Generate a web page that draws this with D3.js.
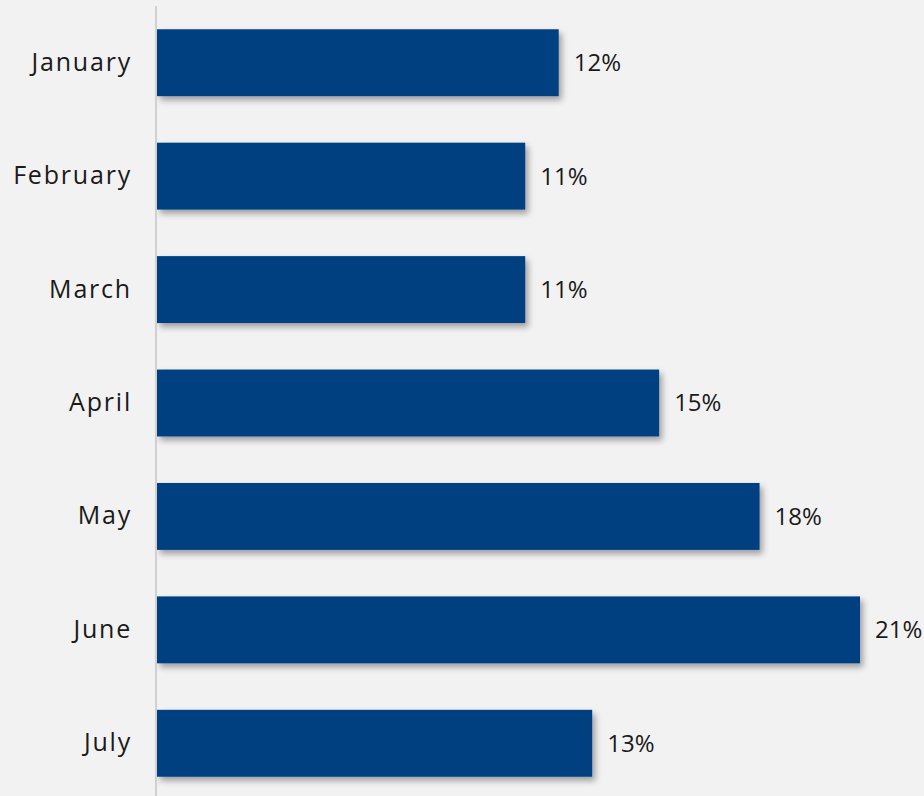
<!DOCTYPE html>
<html>
<head>
<meta charset="utf-8">
<script src="https://cdn.jsdelivr.net/npm/d3@7"></script>
<style>
  html, body { margin: 0; padding: 0; background: #f2f2f2; }
  svg { display: block; }
</style>
</head>
<body>
<svg id="chart" width="924" height="796"></svg>
<script>
// Monthly share, in percent
const months = ["January", "February", "March", "April", "May", "June", "July"];
const shares = [12, 11, 11, 15, 18, 21, 13];

const svg = d3.select("#chart");
const W = 924, H = 796;
const x0 = 157;

svg.append("rect").attr("width", W).attr("height", H).attr("fill", "#f2f2f2");

const defs = svg.append("defs");
const f = defs.append("filter").attr("id", "shadow")
  .attr("x", "-5%").attr("y", "-20%").attr("width", "115%").attr("height", "150%");
f.append("feDropShadow").attr("dx", 3).attr("dy", 4).attr("stdDeviation", 3)
  .attr("flood-color", "#000").attr("flood-opacity", 0.35);

const y = d3.scaleBand().domain(months).range([6, 800]).paddingInner(0.41).paddingOuter(0.205);
const x = d3.scaleLinear().domain([0, 21]).range([x0, 860]);

const data = months.map((m, i) => ({ month: m, value: shares[i] }));

svg.append("g").selectAll("rect").data(data).join("rect")
  .attr("x", x(0))
  .attr("y", d => y(d.month))
  .attr("width", d => x(d.value) - x(0))
  .attr("height", y.bandwidth())
  .attr("fill", "#024180")
  .attr("filter", "url(#shadow)");

// Category axis
const axis = svg.append("g").attr("transform", `translate(${x0 - 1},0)`)
  .call(d3.axisLeft(y).tickSize(0).tickPadding(24));
axis.select(".domain").attr("stroke", "#d0d0d0").attr("stroke-width", 2)
  .attr("d", `M0,6V796`);
axis.selectAll("text")
  .attr("font-family", "'Open Sans', sans-serif")
  .attr("font-size", 25)
  .attr("letter-spacing", "1.8px")
  .attr("fill", "#1a1a1a");

// Value labels
svg.append("g").selectAll("text").data(data).join("text")
  .attr("x", d => x(d.value) + 15)
  .attr("y", d => y(d.month) + y.bandwidth() / 2)
  .attr("dy", "0.35em")
  .attr("font-family", "'Open Sans', sans-serif")
  .attr("font-size", 24)
  .attr("fill", "#1a1a1a")
  .text(d => d.value + "%");
</script>
</body>
</html>
